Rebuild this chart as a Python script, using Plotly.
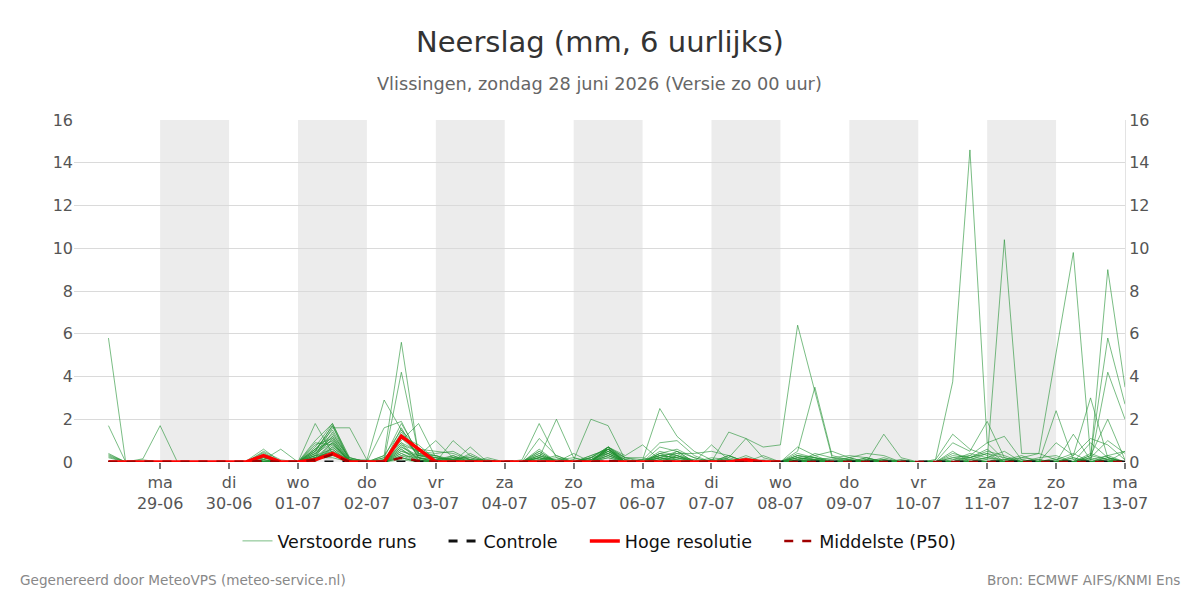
import plotly.graph_objects as go
import pandas as pd

# ---- time axis: 6-hourly from 28-06 06:00 to 13-07 00:00 (60 steps)
times = pd.date_range("2026-06-28 06:00", periods=60, freq="6h")

# ---- ensemble members (Verstoorde runs), mm per 6 h
#       28-06        | 29-06          | 30-06            | 01-07             | 02-07             | 03-07             | 04-07             | 05-07             | 06-07             | 07-07             | 08-07             | 09-07             | 10-07              | 11-07             | 12-07             | 13-07
m01 = [5.8,0,0,       0,0,0,0,         0,0,0.1,0,         0,0.2,0.2,0,        0,0.3,5.6,0.3,      0.1,0.2,0,0,        0,0,0.2,0.1,        0,0.1,0.5,0.1,      0,0.2,0.1,0,        0,0,0.1,0,          0,0.1,0,0,          0,0,0.1,0,          0,0.1,3.75,14.6,     0.9,0.1,0,0,        0,0,0.1,0.3,        0]
m02 = [1.7,0,0,       0,0,0,0,         0,0,0.2,0,         0,0.6,1.3,0.2,      0,0.1,4.2,0.4,      0.2,0.1,0.3,0,      0,0,0.3,0.1,        0.2,0,0.3,0,        0,0.3,0.2,0,        0.1,0,0,0,          0,0.2,0.1,0,        0,0.1,0,0,          0,0,0.2,0.3,         0.1,10.4,0.4,0.4,   0.1,0,0,0.2,        0]
m03 = [0.4,0,0,       0,0,0,0,         0,0.05,0.6,0,      0,0.3,0.35,0.1,     0,0.2,0.9,0.5,      0.4,0.5,0.1,0,      0,0,0.1,0.3,        0,0.1,0.6,0,        0,0,0.3,0.1,        0,0.2,0,0,          0,0.3,0.1,0,        0.1,0,0,0,          0,0,0.3,0.2,         0,0.1,0.2,0.4,      5.2,9.8,0.3,0.1,    0]
m04 = [0.3,0,0,       0,0,0,0,         0,0,0.2,0,         0,0.2,0.5,0.1,      0.1,2.9,1.5,0.2,    0,0.3,0,0.1,        0,0,0.4,0,          0,0.2,0.4,0,        0.1,0,0.2,0.1,      0,0.1,0,0,          0,0.1,0,0.1,        0,0,0.2,0,          0,0,0.2,0.1,         0.4,0.2,0,0,        0,0.1,0.1,9.0,      3.5]
m05 = [0.35,0,0,      0,0,0,0,         0,0,0.5,0.1,       0,0.3,1.1,0.1,      0,0,0.7,0.3,        1.0,0.2,0.1,0,      0,0,0.2,0,          0.1,0,0.7,0.1,      0,0.1,0.4,0,        0.2,0.1,0,0,        0,0.2,0,0,          0,0.1,0,0.1,        0,0,0.4,0.2,         0.6,0,0.1,0,        0.2,0,0.3,5.8,      2.7]
m06 = [0.2,0,0,       0,0,0,0,         0,0,0.1,0,         0,0.4,0.9,0,        0,1.6,1.9,0.3,      0.2,0.1,0.2,0,      0,0,0.1,0.2,        0,0.3,0.6,0,        0,0.4,0.3,0,        0.1,0,0.1,0,        0,0.1,0.3,0,        0,0,0.1,0,          0,0,0.1,0.4,         0.2,0.1,0,0,        0,0.2,0,4.2,        2.0]
m07 = [0.25,0,0,      0,0,0,0,         0,0,0.1,0,         0,0.1,0.7,0.1,      0,0.2,1.8,0.4,      0.3,0,0.1,0.1,      0,0,0.5,0,          0,0.1,0.5,0,        0,0.2,0.5,0.2,      0,0,0.2,0,          0,0.2,0.1,0,        0,0.2,0,0,          0,0,0,0.2,           0.5,0.3,0,0.1,      0,0.3,1.1,0.8,      0.1]
m08 = [0,0,0.1,       0,0,0,0,         0,0,0,0,           0,0.2,0.4,0,        0,0.1,1.0,1.8,      0.2,0.1,0,0,        0,0,0.3,0,          0,0,0.6,0.2,        0,0.1,0,0,          0,0,0.1,0,          0,0,0,0,            0,0,0,0.1,          0,0.1,1.3,0.6,       0.3,0,0,0,          0.1,0,0,0.3,        0.5]
m09 = [0,0,0.15,      1.7,0,0,0,       0,0,0.1,0,         0,0.1,0.6,0,        0,0,0.5,0.2,        0.1,0.3,0,0,        0,0,0.1,0,          0,0.2,0.7,0,        0.1,0.3,0.2,0,      0,0.1,0,0,          0,0,0.1,0,          0,0,0,0,            0,0,0.9,0.5,         1.9,0.2,0,0,        0,0,0,0.1,          0]
m10 = [0,0,0,         0,0,0,0,         0,0,0.4,0,         0,0.5,1.0,0,        0,0.3,1.5,0.6,      0.5,0.4,0.1,0,      0,0,0.2,0,          0.4,0,0.6,0.1,      0,0.5,0.3,0,        0,0,0.3,0,          0,0,0.2,0,          0.2,0,0,0,          0,0,0,0.3,           0.9,1.2,0.1,0,      0,0,0.2,0,          0]
m11 = [0,0,0,         0,0,0,0,         0,0,0.3,0,         0,0.6,1.5,0.1,      0,0.1,1.2,0.8,      0.1,0.2,0,0,        0,0.1,1.8,0.2,      0,0,0.4,0,          0,0.4,0.6,0.2,      0,0,0,0,            0,0.4,0.2,0,        0.1,0,0,0,          0,0,0,0.1,           0.2,0.5,0,0,        2.4,0.1,0,0.2,      0]
m12 = [0,0,0,         0,0,0,0,         0,0,0.2,0,         0,0.1,0.8,0,        0,0,0.8,0.5,        0.3,0.1,0,0,        0,0,1.1,0.3,        0,0.2,0.6,0,        0,0.2,0.1,0,        0,0.3,0,0,          0,0.1,0,0,          0,0.1,0.1,0,        0,0,0.5,0,           0.1,0,0,0,          0.9,0.3,3.0,0.2,    0]
m13 = [0,0,0,         0,0,0,0,         0,0,0.45,0,        0,0.4,1.2,0.2,      0,0,0.6,0.1,        0,0,0.4,0,          0,0,0.2,2.0,        0.2,0,0.7,0.2,      0.2,0,0.3,0,        0,0,0,0,            0,0,0,0,            0,0,0,0,            0,0,0.1,0.2,         0.4,0,0,0,          0,1.3,0.1,0,        0]
m14 = [0,0,0,         0,0,0,0,         0,0,0.3,0,         0,0.5,1.7,0.1,      0,0.1,1.1,0.4,      0,0.1,0,0,          0,0,0.3,0,          0.1,2.0,1.7,0.1,    0,0.3,0.2,0,        0.1,0,0,0,          0,0,0,0,            0,0.2,0,0,          0,0,0,0,             0,0.1,0.3,0,        0,0,0.2,1.0,        0.4]
m15 = [0,0,0,         0,0,0,0,         0,0,0.1,0.6,       0,0.2,0.9,0,        0,0,0.5,0.3,        0.2,0,0,0,          0,0,0.5,0,          0,0.3,0.6,0,        0,0,0.5,0,          0,0,0,0.3,          0,0,0,0,            0,0,0,0,            0,0,0,0.1,           0,0,0,0.2,          0.3,0,0.3,2.0,      0.1]
m16 = [0,0,0,         0,0,0,0,         0,0,0,0,           0,1.8,0.4,0,        0,0,0.9,0.1,        0,0.2,0.2,0,        0,0,0,0,            0,0,0.7,0.3,        0.8,0.1,0,0,        0,0,0,0,            0,0,0.1,0.2,        0,0,0,0,            0,0,0,0,             0.2,0,0.1,0,        0,0,0.9,0.2,        0]
m17 = [0,0,0,         0,0,0,0,         0,0,0,0,           0,1.0,1.8,0.1,      0,0,1.4,0.2,        0.1,0,0.1,0,        0,0,0.6,0,          0,0,0.4,0,          0.1,2.5,1.2,0.5,    0.1,0,0,0,          0,0,0,0,            0,0,0,0,            0,0,0,0,             0,0,0,0,            0,0,0,0.1,          0]
m18 = [0,0,0,         0,0,0,0,         0,0,0,0,           0,0.7,1.8,0.2,      0,0,0.7,0.2,        0,0.1,0,0,          0,0,0.4,0,          0,0.2,0.7,0.2,      0.1,0.9,1.0,0.3,    0,0,0,0.1,          0,0,0,0,            0,0,0,0,            0,0,0,0,             0,0,0,0.1,          0,0.2,0,0,          0]
m19 = [0,0,0,         0,0,0,0,         0,0,0,0,           0,0.3,1.6,1.6,      0.1,0,0.4,0.1,      0,0,0.1,0,          0,0,0,0,            0,0.1,0.5,0,        0,0.7,0.5,0,        0,0.3,0,0,          0,0,0,0,            0,0.1,0,0,          0,0,0,0,             0,0,0,0,            0,0,0,0,            0]
m20 = [0,0,0,         0,0,0,0,         0,0,0,0,           0,0.5,1.7,0,        0,0,0.3,0.2,        0,1.0,0.3,0,        0,0,0,0,            0,0,0.6,0,          0,0.4,0.1,0,        0.8,0.1,0,0,        0,0,0,0,            0,0,0,0,            0,0,0,0,             0,0,0,0,            0,0,0,0,            0]
m21 = [0,0,0,         0,0,0,0,         0,0,0,0,           0,0.2,1.4,0,        0,0,0.8,0.1,        0,0,0.7,0,          0,0,0,0,            0,0,0.5,0,          0,0.2,0,0,          0,1.4,1.1,0.7,      0.8,6.4,3.3,0.2,    0.1,0,0,0,          0,0,0,0,             0,0,0,0,            0,0,0,0,            0]
m22 = [0,0,0,         0,0,0,0,         0,0,0,0,           0,0.4,1.2,0,        0,0,1.3,0.3,        0.3,0,0,0.2,        0,0,0,0,            0,0,0.7,0,          0,0.1,0,0,          0,0.2,1.1,0.2,      0,0.3,0.2,0,        0,0,0,0,            0,0,0,0,             0,0,0,0,            0,0,0,0,            0]
m23 = [0,0,0,         0,0,0,0,         0,0,0,0,           0,0.6,1.0,0,        0,0,0.2,0,          0,0,0,0,            0,0,0,0,            0,0.1,0.4,0,        0,0.3,0.4,0.4,      0.5,0.3,0,0,        0,0.1,0,0,          0,0,0,0,            0,0,0,0,             0,0,0,0,            0,0,0,0,            0]
m24 = [0,0,0,         0,0,0,0,         0,0,0,0,           0,0.9,0.8,0.1,      0,0,0.6,0,          0,0,0,0,            0,0,0,0,            0,0,0.3,0,          0,0,0,0,            0,0,0,0,            0,0.5,3.5,0.3,      0.1,0,0,0,          0,0,0,0,             0,0,0,0,            0,0,0,0,            0]
m25 = [0,0,0,         0,0,0,0,         0,0,0,0,           0,0.1,0.9,0,        0,0,0.4,0,          0,0,0,0,            0,0,0.2,0,          0,0,0.6,0,          0,0.2,0,0,          0,0,0,0,            0,0.7,0.3,0.5,      0.2,0,0.1,0,        0,0,0,0,             0,0,0,0,            0,0,0,0,            0]
m26 = [0,0,0,         0,0,0,0,         0,0,0,0,           0,0.3,0.6,0,        0,0,0.3,0,          0,0,0,0,            0,0,0,0,            0,0,0.2,0,          0,0,0,0,            0,0,0,0,            0,0.2,0.1,0,        0.1,0,1.3,0.2,      0,0,0,0,             0,0,0,0,            0,0,0,0,            0]
m27 = [0,0,0,         0,0,0,0,         0,0,0,0,           0,0.2,0.5,0,        0,0,0.2,0,          0,0,0,0,            0,0,0,0,            0,0,0,0,            0,0,0,0,            0,0,0,0,            0,0.3,0.2,0.1,      0.2,0.4,0.3,0,      0,0,0,0,             0,0,0,0,            0,0,0,0,            0]
m28 = [0,0,0,         0,0,0,0,         0,0,0,0,           0,0.1,0.3,0,        0,0,0.1,0,          0,0,0,0,            0,0,0,0,            0,0,0,0,            0,0,0,0,            0,0,0,0,            0,0,0.4,0.2,        0.3,0.2,0,0,        0,0,0,0,             0,0,0,0,            0,0,0,0,            0]
m29 = [0,0,0,         0,0,0,0,         0,0,0,0,           0,0.8,1.1,0,        0,0,1.6,0.2,        0,0,0,0,            0,0,0,0,            0,0,0.3,0,          0,0,0,0,            0,0,0,0,            0,0,0,0,            0,0,0,0,            0,0,0,0,             0,0,0.2,0.1,        0,0,0.4,0.1,        0]
m30 = [0,0,0,         0,0,0,0,         0,0,0,0,           0,0,0.7,0,          0,0,0.2,0,          0,0,0,0,            0,0,0,0,            0,0,0.2,0,          0,0,0,0,            0,0,0,0,            0,0,0,0,            0,0,0,0,            0,0,0,0,             0,0,0,0,            0.1,0.4,0,0,        0.5]

members = [m01, m02, m03, m04, m05, m06, m07, m08, m09, m10,
           m11, m12, m13, m14, m15, m16, m17, m18, m19, m20,
           m21, m22, m23, m24, m25, m26, m27, m28, m29, m30]

# Controle run (dry throughout)
controle = [0,0,0, 0,0,0,0, 0,0,0,0, 0,0,0,0, 0,0,0,0, 0,0,0,0,
            0,0,0,0, 0,0,0,0, 0,0,0,0, 0,0,0,0, 0,0,0,0, 0,0,0,0,
            0,0,0,0, 0,0,0,0, 0,0,0,0, 0]
# Hoge resolutie run (until 08-07 00:00)
hoge_res = [0,0,0, 0,0,0,0, 0,0,0.3,0, 0,0.1,0.4,0, 0,0,1.2,0.6, 0,0,0,0,
            0,0,0,0, 0,0,0,0, 0,0,0,0, 0,0,0.1,0, 0]
# Middelste (P50)
p50 = [0,0,0, 0,0,0,0, 0,0,0.05,0, 0,0.1,0.35,0, 0,0,0.2,0.05, 0,0,0,0,
       0,0,0,0, 0,0,0.05,0, 0,0,0,0, 0,0,0,0, 0,0,0,0, 0,0,0,0,
       0,0,0,0, 0,0,0,0, 0,0,0,0, 0]

for m in members:
    assert len(m) == 60, len(m)

tick_dates = pd.date_range("2026-06-29", "2026-07-13", freq="D")
tick_days = ["ma", "di", "wo", "do", "vr", "za", "zo", "ma", "di", "wo", "do", "vr", "za", "zo", "ma"]
tick_text = [f"{d}<br>{t.strftime('%d-%m')}" for d, t in zip(tick_days, tick_dates)]
shaded_days = ["2026-06-29", "2026-07-01", "2026-07-03", "2026-07-05",
               "2026-07-07", "2026-07-09", "2026-07-11"]

FONT = "DejaVu Sans"
PAD = "\u00a0" * 4   # extra spacing between legend entries
fig = go.Figure()

for k, m in enumerate(members):
    fig.add_trace(go.Scatter(
        x=times, y=m, mode="lines", name="Verstoorde runs" + PAD,
        line=dict(color="rgba(34,145,50,0.6)", width=1),
        showlegend=(k == 0), legendgroup="runs", hoverinfo="skip"))

fig.add_trace(go.Scatter(x=times, y=controle, mode="lines", name="Controle" + PAD,
                         line=dict(color="#111111", width=3, dash="dash")))
fig.add_trace(go.Scatter(x=times[:len(hoge_res)], y=hoge_res, mode="lines", name="Hoge resolutie" + PAD,
                         line=dict(color="#ff0000", width=3.5)))
fig.add_trace(go.Scatter(x=times, y=p50, mode="lines", name="Middelste (P50)",
                         line=dict(color="#a00000", width=2.5, dash="dash")))
# invisible trace to carry the right-hand axis
fig.add_trace(go.Scatter(x=times, y=p50, mode="lines", yaxis="y2", showlegend=False,
                         line=dict(width=0), opacity=0, hoverinfo="skip"))

for d in shaded_days:
    d0 = pd.Timestamp(d)
    fig.add_shape(type="rect", xref="x", yref="paper", x0=d0, x1=d0 + pd.Timedelta(days=1),
                  y0=0, y1=1, fillcolor="#ececec", line=dict(width=0), layer="below")

fig.update_layout(
    width=1200, height=600,
    margin=dict(l=74, r=75, t=120, b=138),
    paper_bgcolor="white", plot_bgcolor="white",
    font=dict(family=FONT, color="#555555"),
    showlegend=True,
    legend=dict(orientation="h", x=0.5, xanchor="center", y=-0.231, yanchor="middle",
                font=dict(size=17.5, color="#111111"), traceorder="normal"),
    xaxis=dict(range=[pd.Timestamp("2026-06-27 18:00"), pd.Timestamp("2026-07-13 00:00")],
               tickvals=tick_dates, ticktext=tick_text, showgrid=False,
               ticks="outside", ticklen=6, tickwidth=2, tickcolor="#777777",
               tickfont=dict(size=16, color="#555555"), showline=False, zeroline=False),
    yaxis=dict(range=[0, 16], dtick=2, showgrid=True, gridcolor="#dadada", gridwidth=1,
               zeroline=False, tickfont=dict(size=16, color="#555555"), ticks=""),
    yaxis2=dict(range=[0, 16], dtick=2, overlaying="y", side="right", showgrid=False,
                zeroline=False, showline=True, linecolor="#e3e3e3", linewidth=1,
                tickfont=dict(size=16, color="#555555"), ticks=""),
    annotations=[
        dict(text="Neerslag (mm, 6 uurlijks)", xref="paper", yref="paper", x=0.5, y=1.228,
             xanchor="center", yanchor="middle", showarrow=False,
             font=dict(size=29, color="#333333", family=FONT)),
        dict(text="Vlissingen, zondag 28 juni 2026 (Versie zo 00 uur)", xref="paper", yref="paper",
             x=0.5, y=1.105, xanchor="center", yanchor="middle", showarrow=False,
             font=dict(size=17.7, color="#666666", family=FONT)),
        dict(text="Gegenereerd door MeteoVPS (meteo-service.nl)", xref="paper", yref="paper",
             x=-0.0533, y=-0.345, xanchor="left", yanchor="middle", showarrow=False,
             font=dict(size=13.6, color="#888888", family=FONT)),
        dict(text="Bron: ECMWF AIFS/KNMI Ens", xref="paper", yref="paper",
             x=1.0542, y=-0.345, xanchor="right", yanchor="middle", showarrow=False,
             font=dict(size=13.6, color="#888888", family=FONT)),
    ],
)

fig.write_html("out.html")
